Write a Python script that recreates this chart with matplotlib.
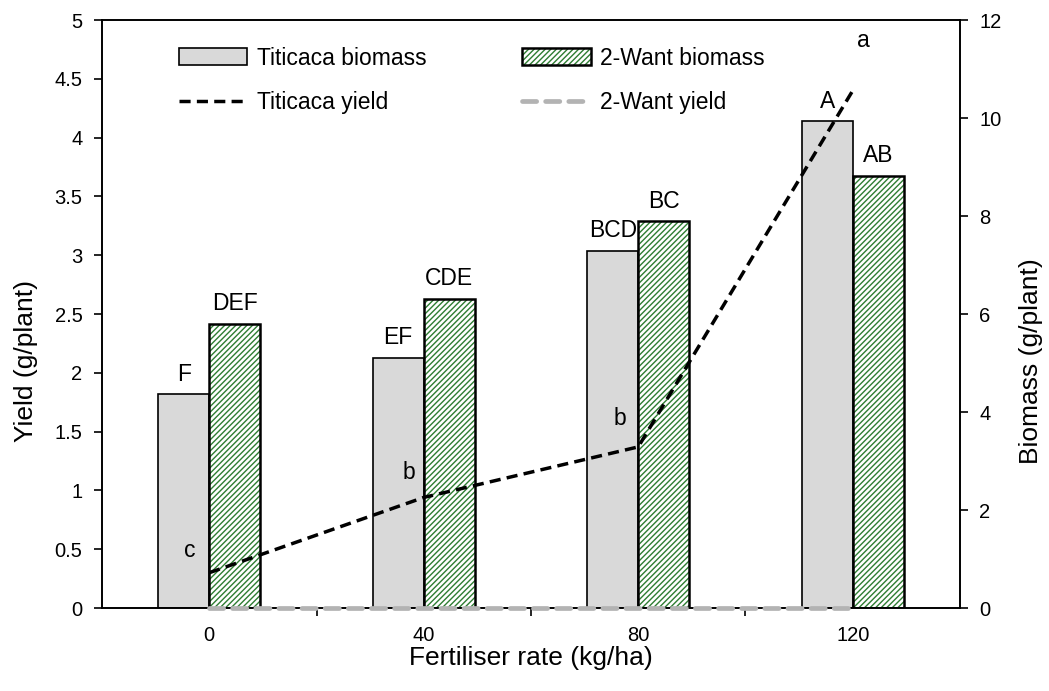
import matplotlib
matplotlib.use("Agg")
import matplotlib.pyplot as plt
import numpy as np
from matplotlib.patches import Patch, Rectangle
from matplotlib.lines import Line2D
from matplotlib.legend_handler import HandlerBase

plt.rcParams['font.family'] = ['Liberation Sans', 'DejaVu Sans']
plt.rcParams['hatch.linewidth'] = 1.0

rates = ['0', '40', '80', '120']
titicaca_biomass = [4.36, 5.11, 7.29, 9.94]
want_biomass = [5.80, 6.31, 7.90, 8.82]
titicaca_yield = [0.30, 0.94, 1.37, 4.40]
want_yield = [0.0, 0.0, 0.0, 0.0]
titicaca_letters = ['F', 'EF', 'BCD', 'A']
want_letters = ['DEF', 'CDE', 'BC', 'AB']
yield_letters = ['c', 'b', 'b', 'a']

GREEN = '#2e7d32'
FS_TICK = 14.5
FS = 16.5
FS_TITLE = 19
fig = plt.figure(figsize=(10.49, 6.91), dpi=100)
ax = fig.add_axes([102/1049, 83/691, 858/1049, 588/691])
ax2 = ax.twinx()
ax.set_zorder(ax2.get_zorder() + 1)
ax.patch.set_visible(False)

x = np.arange(len(rates))
w = 0.238
b1 = ax2.bar(x - w/2, titicaca_biomass, w, color='#d9d9d9', edgecolor='black', linewidth=1.2)
ax2.bar(x + w/2, want_biomass, w, color='white', edgecolor=GREEN, linewidth=0, hatch='//////')
b2 = ax2.bar(x + w/2, want_biomass, w, fill=False, edgecolor='black', linewidth=1.8)
for bars, labs in ((b1, titicaca_letters), (b2, want_letters)):
    for r, lab in zip(bars, labs):
        ax2.annotate(lab, (r.get_x() + r.get_width()/2, r.get_height()), xytext=(0, 6),
                     textcoords='offset points', ha='center', va='bottom', fontsize=FS)

ax.plot(x, want_yield, color='#b3b3b3', lw=3.4, dashes=(3, 1.9), dash_capstyle='round',
        zorder=5, clip_on=False)
ax.plot(x, titicaca_yield, color='black', lw=2.5, dashes=(3.2, 1.8), zorder=4)
offs = [(-14, 8), (-11, 10), (-13, 12), (8, 28)]
for xi, yi, lab, o in zip(x, titicaca_yield, yield_letters, offs):
    ax.annotate(lab, (xi, yi), xytext=o, textcoords='offset points', ha='center', va='bottom', fontsize=FS)

ax.set_xlim(-0.5, 3.5)
ax.set_ylim(0, 5)
ax2.set_ylim(0, 12)
yt = np.arange(0, 5.01, 0.5)
ax.set_yticks(yt)
ax.set_yticklabels(['%g' % v for v in yt])
ax2.set_yticks(np.arange(0, 12.1, 2))
ax.set_xticks([0.5, 1.5, 2.5])
ax.set_xticklabels([])
ax.set_xticks(x, minor=True)
ax.set_xticklabels(rates, minor=True)
ax.tick_params(axis='x', which='major', length=6, width=1.2, direction='out')
ax.tick_params(axis='x', which='minor', length=0, pad=13, labelsize=FS_TICK)
ax.tick_params(axis='y', length=6, width=1.2, direction='out', labelsize=FS_TICK, pad=8)
ax2.tick_params(axis='y', length=6, width=1.2, direction='out', labelsize=FS_TICK, pad=8)
for a in (ax, ax2):
    for s in a.spines.values():
        s.set_linewidth(1.2)

ax.set_xlabel('Fertiliser rate (kg/ha)', fontsize=FS_TITLE)
ax.xaxis.set_label_coords(0.5, -0.064)
ax.set_ylabel('Yield (g/plant)', fontsize=FS_TITLE)
ax.yaxis.set_label_coords(-0.075, 0.42)
ax2.set_ylabel('Biomass (g/plant)', fontsize=FS_TITLE)
ax2.yaxis.set_label_coords(1.069, 0.42)


class HatchHandler(HandlerBase):
    def create_artists(self, legend, orig_handle, xdescent, ydescent, width, height, fontsize, trans):
        r1 = Rectangle((-xdescent, -ydescent), width, height, facecolor='white', edgecolor=GREEN,
                       linewidth=0, hatch='//////', transform=trans)
        r2 = Rectangle((-xdescent, -ydescent), width, height, fill=False, edgecolor='black',
                       linewidth=1.8, transform=trans)
        return [r1, r2]


hatch_handle = Patch(facecolor='white', edgecolor='black')
handles = [Patch(facecolor='#d9d9d9', edgecolor='black', linewidth=1.2),
           Line2D([], [], color='black', lw=2.5, dashes=(3.2, 1.8)),
           hatch_handle,
           Line2D([], [], color='#b3b3b3', lw=3.4, dashes=(3, 1.9), dash_capstyle='round')]
labels = ['Titicaca biomass', 'Titicaca yield', '2-Want biomass', '2-Want yield']
ax.legend(handles, labels, ncol=2, frameon=False, fontsize=FS, loc='upper left',
          bbox_to_anchor=(56/858, 0.99), handlelength=3.0, handleheight=0.75,
          columnspacing=4.2, labelspacing=0.95, handletextpad=0.4,
          handler_map={hatch_handle: HatchHandler()})

fig.savefig('out.png', dpi=100)
